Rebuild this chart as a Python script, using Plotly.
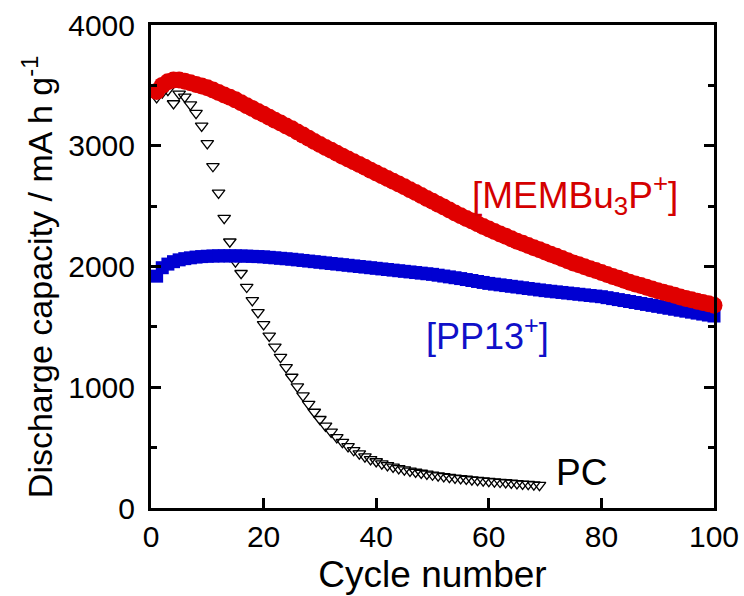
import plotly.graph_objects as go

cycles_membu = list(range(1, 101))
cap_membu = [3450, 3500, 3530, 3545, 3545, 3535, 3522, 3508, 3494, 3480,
             3461, 3441, 3421, 3401, 3380, 3356, 3332, 3308, 3284, 3260,
             3236, 3212, 3188, 3164, 3140, 3114, 3088, 3062, 3036, 3010,
             2986, 2962, 2938, 2914, 2890, 2867, 2844, 2821, 2798, 2775,
             2752, 2729, 2706, 2683, 2660, 2636, 2612, 2588, 2564, 2540,
             2516, 2492, 2468, 2444, 2420, 2398, 2376, 2354, 2332, 2310,
             2290, 2270, 2250, 2230, 2210, 2192, 2174, 2156, 2138, 2120,
             2102, 2084, 2066, 2048, 2030, 2014, 1998, 1982, 1966, 1950,
             1934, 1918, 1902, 1886, 1870, 1856, 1842, 1828, 1814, 1800,
             1787, 1774, 1761, 1748, 1735, 1724, 1713, 1702, 1691, 1680]

cycles_pp13 = list(range(1, 101))
cap_pp13 = [1920, 1990, 2020, 2040, 2055, 2065, 2072, 2078, 2082, 2085,
            2087, 2088, 2088, 2088, 2088, 2087, 2086, 2084, 2082, 2080,
            2076, 2072, 2068, 2064, 2060, 2055, 2050, 2045, 2040, 2035,
            2030, 2025, 2020, 2015, 2010, 2005, 2000, 1995, 1990, 1985,
            1980, 1975, 1970, 1965, 1960, 1955, 1950, 1945, 1940, 1935,
            1928, 1921, 1914, 1907, 1900, 1892, 1884, 1876, 1868, 1860,
            1854, 1848, 1842, 1836, 1830, 1824, 1818, 1812, 1806, 1800,
            1795, 1790, 1785, 1780, 1775, 1770, 1765, 1760, 1755, 1750,
            1742, 1734, 1726, 1718, 1710, 1702, 1694, 1686, 1678, 1670,
            1662, 1654, 1646, 1638, 1630, 1622, 1614, 1606, 1598, 1590]

cycles_pc = list(range(1, 70))
cap_pc = [3400, 3440, 3460, 3350, 3430, 3405, 3340, 3270, 3165, 3020,
          2830, 2610, 2400, 2205, 2040, 1944, 1830, 1720, 1620, 1520,
          1425, 1335, 1250, 1165, 1085, 1005, 930, 860, 795, 735,
          680, 630, 585, 545, 510, 478, 450, 425, 403, 385,
          368, 353, 340, 328, 317, 307, 298, 290, 282, 275,
          268, 262, 256, 250, 245, 240, 235, 231, 227, 223,
          219, 215, 211, 208, 204, 200, 197, 193, 190]

x_ticks = [0, 20, 40, 60, 80, 100]
y_ticks = [0, 1000, 2000, 3000, 4000]

RED = "#e00000"
BLUE = "#0000d2"
FONT = "Liberation Sans, Arial, sans-serif"

fig = go.Figure()
fig.add_trace(go.Scatter(
    x=cycles_pc, y=cap_pc, mode="markers", cliponaxis=False,
    marker=dict(symbol="triangle-down-open", size=11, color="black",
                line=dict(width=1.3, color="black")),
    showlegend=False))
fig.add_trace(go.Scatter(
    x=cycles_pp13, y=cap_pp13, mode="markers", cliponaxis=False,
    marker=dict(symbol="square", size=13, color=BLUE, line=dict(width=0)),
    showlegend=False))
fig.add_trace(go.Scatter(
    x=cycles_membu, y=cap_membu, mode="markers", cliponaxis=False,
    marker=dict(symbol="circle", size=17, color=RED, line=dict(width=0)),
    showlegend=False))

fig.add_annotation(x=75.3, y=2600, text="[MEMBu<sub>3</sub>P<sup>+</sup>]",
                   showarrow=False, font=dict(family=FONT, size=37, color="#d40000"),
                   xanchor="center", yanchor="middle")
fig.add_annotation(x=59.7, y=1441, text="[PP13<sup>+</sup>]",
                   showarrow=False, font=dict(family=FONT, size=36, color="#1010c8"),
                   xanchor="center", yanchor="middle")
fig.add_annotation(x=76.4, y=294, text="PC",
                   showarrow=False, font=dict(family=FONT, size=37, color="black"),
                   xanchor="center", yanchor="middle")

# y-axis title, placed as rotated text to match the reference position
fig.add_annotation(xref="paper", yref="paper", x=-0.2025, y=0.48,
                   text="Discharge capacity / mA h g<sup>-1</sup>", textangle=-90,
                   showarrow=False, font=dict(family=FONT, size=34, color="black"),
                   xanchor="center", yanchor="middle")

fig.update_layout(
    width=744, height=596,
    margin=dict(l=151, r=30, t=25, b=88),
    paper_bgcolor="white", plot_bgcolor="white",
    font=dict(family=FONT, color="black"),
    xaxis=dict(
        range=[0, 100], tickvals=x_ticks, ticktext=[str(v) for v in x_ticks],
        automargin=False,
        showgrid=False, zeroline=False,
        showline=True, linewidth=3, linecolor="black", mirror=True,
        ticks="inside", ticklen=10, tickwidth=2.5, tickcolor="black",
        tickfont=dict(size=30, family=FONT),
        title=dict(text="Cycle number", font=dict(size=37, family=FONT), standoff=10),
    ),
    yaxis=dict(
        range=[0, 4000], tickvals=y_ticks, ticktext=[str(v) for v in y_ticks],
        automargin=False,
        showgrid=False, zeroline=False,
        showline=True, linewidth=3, linecolor="black", mirror="ticks",
        ticks="inside", ticklen=10, tickwidth=2.5, tickcolor="black",
        ticklabelstandoff=7,
        minor=dict(tickvals=[500, 1500, 2500, 3500], ticks="inside",
                   ticklen=6, tickwidth=2.5, tickcolor="black"),
        tickfont=dict(size=30, family=FONT),
    ),
)

# Remove the default 8px page margin so the 744x596 figure fills the window exactly.
fig.write_html(
    "out.html",
    config={"displayModeBar": False},
    post_script="document.body.style.margin='0';document.body.style.overflow='hidden';",
)
